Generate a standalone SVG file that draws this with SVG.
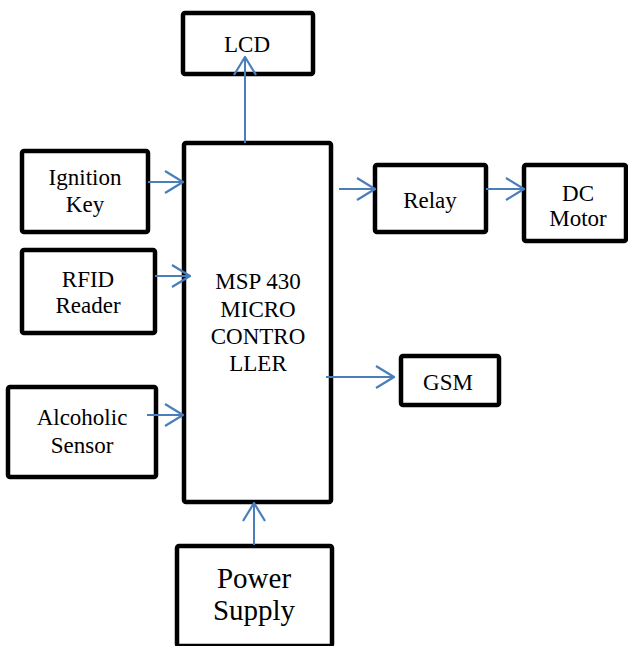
<svg xmlns="http://www.w3.org/2000/svg" width="628" height="646" viewBox="0 0 628 646">
<style>
.box{fill:#fff;stroke:#000;stroke-width:4.5;stroke-linejoin:round}
text{font-family:'Liberation Serif','Times New Roman',Times,'DejaVu Serif',serif;font-size:23px;fill:#000;text-anchor:middle}
.big{font-size:29px}
.c{stroke:#4A7EBB;stroke-width:2;fill:none}
</style>
<defs>
<marker id="ah" viewBox="0 0 20 24" refX="19" refY="12" markerWidth="20" markerHeight="24" markerUnits="userSpaceOnUse" orient="auto">
<path d="M1,1 L19,12 L1,23" fill="none" stroke="#4A7EBB" stroke-width="2.2"/>
</marker>
</defs>
<rect width="628" height="646" fill="#fff"/>
<g id="lcd"><rect class="box" x="183" y="13" width="130" height="61" rx="2"/><text x="247" y="52">LCD</text></g>
<g id="mcu"><rect class="box" x="184" y="143" width="147" height="359" rx="2"/>
<text x="258" y="289">MSP 430</text><text x="258" y="317">MICRO</text><text x="258" y="344">CONTRO</text><text x="258" y="371">LLER</text></g>
<g id="ignition"><rect class="box" x="22" y="151" width="126" height="81" rx="2"/><text x="85" y="185">Ignition</text><text x="85" y="212">Key</text></g>
<g id="rfid"><rect class="box" x="22" y="250" width="133" height="83" rx="2"/><text x="88" y="287">RFID</text><text x="88" y="313">Reader</text></g>
<g id="alcohol"><rect class="box" x="8" y="387" width="148" height="90" rx="2"/><text x="82" y="425">Alcoholic</text><text x="82" y="453">Sensor</text></g>
<g id="relay"><rect class="box" x="375" y="165" width="111" height="67" rx="2"/><text x="430" y="208">Relay</text></g>
<g id="dcmotor"><rect class="box" x="524" y="165" width="102" height="76" rx="2"/><text x="578" y="201">DC</text><text x="578" y="226">Motor</text></g>
<g id="gsm"><rect class="box" x="401" y="356" width="98" height="49" rx="2"/><text x="448" y="390">GSM</text></g>
<g id="power"><rect class="box" x="177" y="546" width="155" height="100" rx="2"/><text class="big" x="254" y="588">Power</text><text class="big" x="254" y="620">Supply</text></g>
<g id="connectors">
<line class="c" x1="245" y1="143" x2="245" y2="57" marker-end="url(#ah)"/>
<line class="c" x1="148" y1="182" x2="183" y2="182" marker-end="url(#ah)"/>
<line class="c" x1="155" y1="276" x2="190" y2="276" marker-end="url(#ah)"/>
<line class="c" x1="147" y1="415" x2="183" y2="415" marker-end="url(#ah)"/>
<line class="c" x1="339" y1="189" x2="375" y2="189" marker-end="url(#ah)"/>
<line class="c" x1="486" y1="189" x2="524" y2="189" marker-end="url(#ah)"/>
<line class="c" x1="326" y1="377" x2="394" y2="377" marker-end="url(#ah)"/>
<line class="c" x1="254" y1="545" x2="254" y2="503" marker-end="url(#ah)"/>
</g>
</svg>
